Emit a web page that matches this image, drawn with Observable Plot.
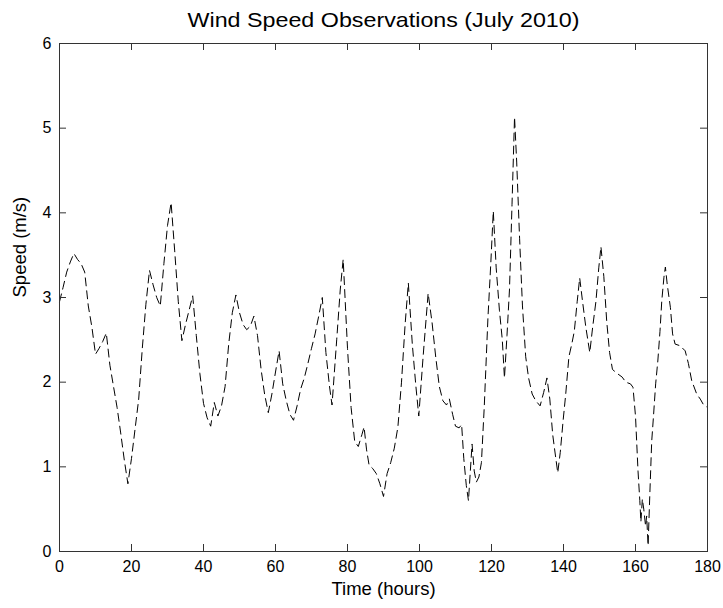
<!DOCTYPE html>
<html>
<head>
<meta charset="utf-8">
<script src="https://cdn.jsdelivr.net/npm/d3@7"></script>
<script src="https://cdn.jsdelivr.net/npm/@observablehq/plot@0.6"></script>
<style>
  html, body { margin: 0; padding: 0; background: #fff; }
  #chart svg { display: block; }
</style>
</head>
<body>
<div id="chart"></div>
<script>
const titleText = "Wind Speed Observations (July 2010)";
const xLabel = "Time (hours)";
const yLabel = "Speed (m/s)";
const xTicks = [0, 20, 40, 60, 80, 100, 120, 140, 160, 180];
const yTicks = [0, 1, 2, 3, 4, 5, 6];

const hours = [
  0, 1, 2, 3, 4, 5, 6, 7, 8, 9, 10, 11, 12, 13, 14, 15, 16, 17, 18, 19,
  20, 21, 22, 23, 24, 25, 26, 27, 28, 29, 30, 31, 32, 33, 34, 35, 36, 37, 38, 39,
  40, 41, 42, 43, 44, 45, 46, 47, 48, 49, 50, 51, 52, 53, 54, 55, 56, 57, 58, 59,
  60, 61, 62, 63, 64, 65, 66, 67, 68, 69, 70, 71, 72, 73, 74, 75, 75.7, 77, 78, 78.8,
  80, 81, 82, 83, 84, 84.6, 85.3, 86, 87, 88, 89, 90, 91, 92, 93, 94, 95, 96, 96.9,
  98, 99, 99.8, 101, 102.4, 103.5, 104.5, 105.5, 106.5, 107.5, 108.3, 109.2, 110, 111, 111.7,
  112.3, 113, 113.6, 114.6, 115.2, 115.8, 116.5, 117.2, 118, 119, 119.8, 120.5, 121.3, 122.2,
  123, 123.6, 124.3, 125, 125.7, 126.4, 127, 127.8, 128.6, 129.5, 130.3, 131.3, 132.3, 133.5,
  134.5, 135.4, 136.2, 137, 137.8, 138.4, 139.1, 139.9, 140.6, 141.5, 142.3, 143, 143.8, 144.5,
  145.3, 146.2, 147.3, 148.1, 149, 149.8, 150.4, 151.2, 152, 152.8, 153.6, 155, 156.3, 157.3,
  158.6, 159.3, 160, 160.7, 161.2, 161.5, 161.9, 162.3, 162.8, 163.1, 163.5, 164, 164.5, 165,
  165.6, 166.2, 166.8, 167.3, 167.9, 168.3, 168.8, 169.7, 170.3, 171, 172.4, 173.8, 174.7,
  175.6, 177, 178, 178.8, 180
];
const speeds = [
  2.95, 3.12, 3.3, 3.42, 3.52, 3.45, 3.4, 3.3, 2.9, 2.65, 2.33, 2.4, 2.48, 2.58, 2.2, 1.95, 1.7, 1.4, 1.08, 0.8,
  1.1, 1.45, 1.8, 2.4, 2.92, 3.32, 3.15, 3.0, 2.9, 3.4, 3.85, 4.12, 3.55, 2.95, 2.49, 2.68, 2.85, 3.02, 2.55, 2.1,
  1.75, 1.58, 1.48, 1.76, 1.6, 1.72, 1.95, 2.45, 2.82, 3.03, 2.82, 2.68, 2.62, 2.66, 2.78, 2.55, 2.15, 1.85, 1.64, 1.86,
  2.12, 2.37, 1.98, 1.78, 1.62, 1.55, 1.72, 1.92, 2.05, 2.22, 2.4, 2.57, 2.78, 3.0, 2.35, 1.95, 1.73, 2.5, 3.1, 3.45,
  2.4, 1.7, 1.3, 1.24, 1.38, 1.47, 1.2, 1.02, 0.98, 0.92, 0.8, 0.65, 0.92, 1.05, 1.22, 1.47, 2.0, 2.68, 3.17,
  2.45, 1.95, 1.6, 2.3, 3.05, 2.7, 2.3, 1.95, 1.78, 1.73, 1.8, 1.62, 1.48, 1.46, 1.5,
  1.1, 0.78, 0.6, 1.27, 0.95, 0.82, 0.88, 1.05, 1.72, 2.75, 3.4, 4.02, 3.35, 2.85,
  2.5, 2.05, 2.55, 3.1, 4.1, 5.13, 4.6, 3.7, 2.9, 2.3, 2.05, 1.86, 1.78, 1.72,
  1.88, 2.05, 1.8, 1.38, 1.12, 0.93, 1.17, 1.55, 1.85, 2.3, 2.45, 2.6, 2.95, 3.23,
  2.95, 2.65, 2.35, 2.65, 2.95, 3.35, 3.6, 3.25, 2.72, 2.35, 2.15, 2.1, 2.06, 2.0,
  1.98, 1.94, 1.6, 0.95, 0.6, 0.35, 0.62, 0.5, 0.3, 0.42, 0.07, 0.7, 1.3, 1.6,
  1.98, 2.25, 2.6, 2.96, 3.24, 3.36, 3.16, 2.88, 2.57, 2.45, 2.43, 2.37, 2.22,
  2.02, 1.86, 1.8, 1.74, 1.7
];

const data = hours.map((h, i) => ({hour: h, speed: speeds[i]}));

const W = 723, H = 608;
const mL = 59, mR = 16, mT = 43, mB = 57;
const plotW = W - mL - mR, plotH = H - mT - mB;
const tickLen = 7;
const font = "'Liberation Sans', Arial, Helvetica, sans-serif";

const chart = Plot.plot({
  width: W,
  height: H,
  marginLeft: mL,
  marginRight: mR,
  marginTop: mT,
  marginBottom: mB,
  style: {fontFamily: font, fontSize: "16px", color: "#000", background: "#fff"},
  x: {domain: [0, 180], ticks: xTicks, label: null},
  y: {domain: [0, 6], ticks: yTicks, label: null},
  marks: [
    Plot.line(data, {x: "hour", y: "speed", stroke: "#000", strokeWidth: 1, strokeDasharray: "8,5"}),
    // inward tick marks on all four sides (box on)
    Plot.tickX(xTicks, {x: d => d, stroke: "#333", insetTop: plotH - tickLen}),
    Plot.tickX(xTicks, {x: d => d, stroke: "#333", insetBottom: plotH - tickLen}),
    Plot.tickY(yTicks, {y: d => d, stroke: "#333", insetRight: plotW - tickLen}),
    Plot.tickY(yTicks, {y: d => d, stroke: "#333", insetLeft: plotW - tickLen}),
    Plot.frame({stroke: "#333", strokeWidth: 1}),
    Plot.axisX(xTicks, {tickSize: 0, tickPadding: 9, fontSize: 16, tickFormat: "d", label: null}),
    Plot.axisY(yTicks, {tickSize: 0, tickPadding: 8, fontSize: 16, tickFormat: "d", label: null}),
    Plot.text([titleText], {frameAnchor: "top", dy: -31, text: d => d, fontSize: 21, fill: "#000", className: "ttl"}),
    Plot.text([xLabel], {frameAnchor: "bottom", dy: 43, text: d => d, fontSize: 18.5, fill: "#000"}),
    Plot.text([yLabel], {frameAnchor: "left", dx: -39, rotate: -90, text: d => d, fontSize: 18.5, fill: "#000"})
  ]
});
document.getElementById("chart").appendChild(chart);
// fit the title to the reference's width
const t = chart.querySelector(".ttl text");
if (t) { t.setAttribute("textLength", "392"); t.setAttribute("lengthAdjust", "spacingAndGlyphs"); }
</script>
</body>
</html>
